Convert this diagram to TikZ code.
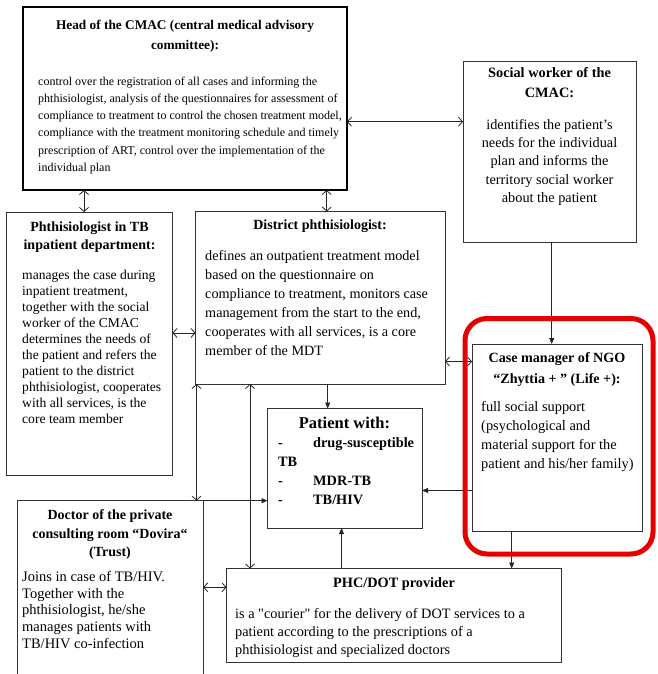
\documentclass[tikz,border=0pt]{standalone}
\usepackage{fontspec}
\setmainfont{Liberation Serif}
\newfontfamily\plainserif{Liberation Serif}
\usetikzlibrary{arrows.meta}
\newcommand{\fsz}[2]{\fontsize{#1pt}{#2pt}\selectfont}
\newcommand{\fl}{\rule{0pt}{12pt}}
\begin{document}
\begin{tikzpicture}[x=1pt,y=-1pt,
  box/.style={draw=black!80, line width=0.9pt, inner sep=0pt, outer sep=0pt, anchor=north west},
  thickbox/.style={box, draw=black, line width=2.6pt},
  ttl/.style={inner sep=0pt, anchor=north, align=center},
  bod/.style={inner sep=0pt, anchor=north west, align=left},
  bodc/.style={inner sep=0pt, anchor=north, align=center},
  dbl/.style={draw=black!85, line width=0.8pt, {Straight Barb[length=4pt,width=9pt]}-{Straight Barb[length=4pt,width=9pt]}},
  sgl/.style={draw=black!85, line width=0.8pt, -{Triangle[length=6pt,width=5pt]}},
  hl/.style={draw=red!90!black, line width=5pt, rounded corners=22pt, inner sep=0pt, outer sep=0pt, anchor=north west}
]
\useasboundingbox (0,0) rectangle (657,674);

% boxes
\node[thickbox, minimum width=324pt, minimum height=183pt] (head) at (23,7) {};
\node[box, minimum width=173pt, minimum height=181pt] (social) at (463,61) {};
\node[box, minimum width=166pt, minimum height=263pt] (inpat) at (6.5,212) {};
\node[box, minimum width=249.5pt, minimum height=172.5pt] (district) at (195.5,211.5) {};
\node[box, minimum width=154.5pt, minimum height=119.5pt] (patient) at (267.5,408.5) {};
\node[box, minimum width=170pt, minimum height=187pt] (casem) at (472,344) {};
\node[box, minimum width=185.8pt, minimum height=175.3pt] (doctor) at (17.5,500.7) {};
\node[box, minimum width=335pt, minimum height=94pt] (phc) at (226.5,568.5) {};

% texts
\node[ttl, font=\bfseries\fsz{13.3}{20}] (headT) at (185,17.5) {\fl Head of the CMAC (central medical advisory\\committee):};
\node[bod, font=\fsz{12}{17.2}] (headB) at (38,73) {\fl control over the registration of all cases and informing the\\phthisiologist, analysis of the questionnaires for assessment of\\compliance to treatment to control the chosen treatment model,\\compliance with the treatment monitoring schedule and timely\\prescription of ART, control over the implementation of the\\individual plan};

\node[ttl, font=\bfseries\fsz{14.3}{20}] (socialT) at (549.5,65.5) {\fl Social worker of the\\CMAC:};
\node[bodc, font=\fsz{14.3}{18.3}] (socialB) at (549.5,117) {\fl identifies the patient's\\needs for the individual\\plan and informs the\\territory social worker\\about the patient};

\node[ttl, font=\bfseries\fsz{14}{18}] (inpatT) at (89.5,219.5) {\fl Phthisiologist in TB\\inpatient department:};
\node[bod, font=\fsz{13.6}{16}] (inpatB) at (22,267) {\fl manages the case during\\inpatient treatment,\\together with the social\\worker of the CMAC\\determines the needs of\\the patient and refers the\\patient to the district\\phthisiologist, cooperates\\with all services, is the\\core team member};

\node[ttl, font=\bfseries\fsz{14}{18}] (districtT) at (320,217.5) {\fl District phthisiologist:};
\node[bod, font=\fsz{14.2}{19}] (districtB) at (205,248) {\fl defines an outpatient treatment model\\based on the questionnaire on\\compliance to treatment, monitors case\\management from the start to the end,\\cooperates with all services, is a core\\member of the MDT};

\node[ttl, font=\bfseries\fsz{16.5}{20}] (patientT) at (344.5,416) {\fl Patient with:};
\node[bod, font=\bfseries\fsz{14.3}{19}] (patientB) at (278,435.5) {\fl\makebox[35pt][l]{-}drug-susceptible\\TB\\\makebox[35pt][l]{-}MDR-TB\\\makebox[35pt][l]{-}TB/HIV};

\node[ttl, font=\bfseries\fsz{14.1}{21}] (casemT) at (557,350.5) {\fl Case manager of NGO\\“Zhyttia + ” (Life +):};
\node[bod, font=\fsz{14.4}{19}] (casemB) at (481,399) {\fl full social support\\(psychological and\\material support for the\\patient and his/her family)};

\node[ttl, font=\bfseries\fsz{14}{18.5}] (doctorT) at (110,507.5) {\fl Doctor of the private\\consulting room “Dovira“\\(Trust)};
\node[bod, font=\fsz{14.5}{16.8}] (doctorB) at (22,569) {\fl Joins in case of TB/HIV.\\Together with the\\phthisiologist, he/she\\manages patients with\\TB/HIV co-infection};

\node[ttl, font=\bfseries\fsz{14.3}{18}] (phcT) at (394,575.5) {\fl PHC/DOT provider};
\node[bod, font=\fsz{14.3}{18}] (phcB) at (235,606) {\fl is a {\plainserif"}courier{\plainserif"} for the delivery of DOT services to a\\patient according to the prescriptions of a\\phthisiologist and specialized doctors};

% helper coordinates
\coordinate (x84) at (84,0);
\coordinate (x327) at (326.7,0);
\coordinate (x328) at (327.7,0);
\coordinate (x552) at (551.7,0);
\coordinate (x196) at (196.5,0);
\coordinate (x250) at (250,0);
\coordinate (x342) at (341.5,0);
\coordinate (x512) at (511.7,0);
\coordinate (y122) at (0,121.7);
\coordinate (y333) at (0,333);
\coordinate (y361) at (0,361.5);
\coordinate (y490) at (0,490.5);
\coordinate (y587) at (0,587.3);

% connectors
\draw[dbl] (head.south -| x84) -- (inpat.north -| x84);
\draw[dbl] (head.south -| x327) -- (district.north -| x327);
\draw[dbl] (head.east |- y122) -- (social.west |- y122);
\draw[dbl] (inpat.east |- y333) -- (district.west |- y333);
\draw[dbl] (district.east |- y361) -- (casem.west |- y361);
\draw[sgl] (district.south -| x328) -- (patient.north -| x328);
\draw[sgl] (social.south -| x552) -- (casem.north -| x552);
\draw[sgl] (casem.west |- y490) -- (patient.east |- y490);
\draw[sgl] (doctor.north east) -- (patient.west |- doctor.north east);
\draw[dbl] (district.south -| x196) -- (doctor.north -| x196);
\draw[dbl] (district.south -| x250) -- (phc.north -| x250);
\draw[sgl] (phc.north -| x342) -- (patient.south -| x342);
\draw[sgl] (casem.south -| x512) -- (phc.north -| x512);
\draw[dbl] (doctor.east |- y587) -- (phc.west |- y587);

% highlight
\node[hl, minimum width=188pt, minimum height=235.5pt] (highlight) at (465,318.5) {};
\end{tikzpicture}
\end{document}
